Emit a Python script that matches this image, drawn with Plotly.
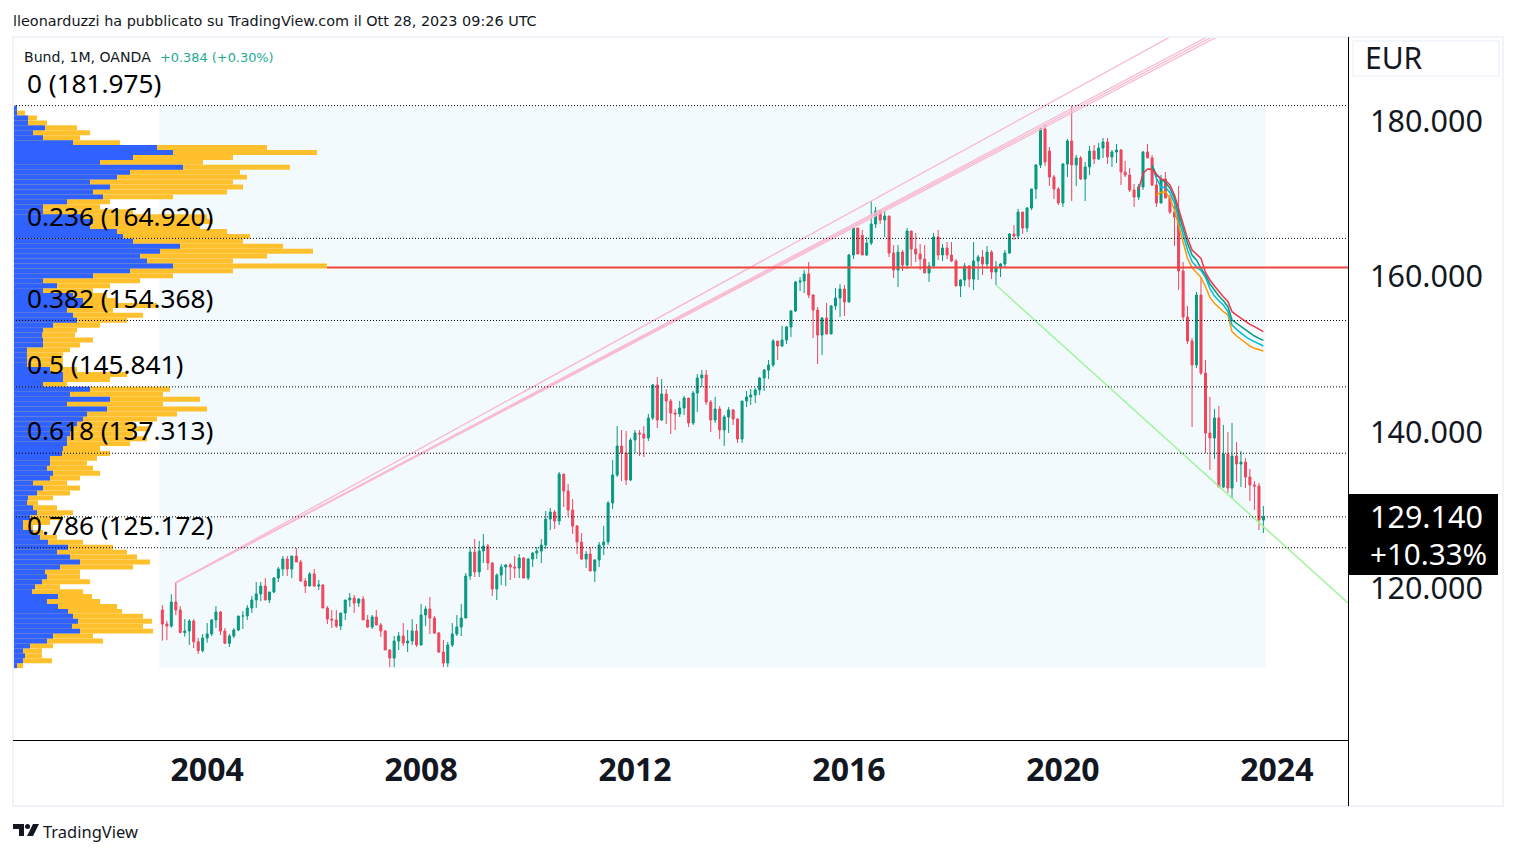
import pandas as pd
import plotly.graph_objects as go

W, H = 1516, 854
L, R, T, B = 13, 1348, 37, 740

FIRST_MONTH = "2003-03-01"
OPEN_FIRST = 117.17
OPEN_GAPS = {157: 165.3, 199: 176.14}

closes = [
115.37,115.11,118.2,117.17,114.26,114.47,115.76,113.1,111.95,113.57,114.09,115.89,116.91,114.47,112.89,113.83,114.6,116.4,116.4,117.43,
118.46,119.23,120.25,118.46,119.48,121.28,122.44,123.72,122.44,124.11,123.34,120.9,120.25,121.8,120.25,120.38,117.43,116.0,115.89,115.11,
116.79,118.46,118.71,118.07,118.58,115.89,114.99,116.27,115.24,114.47,112.03,111.0,113.19,113.83,112.93,113.19,114.47,112.67,116.53,117.3,
116.14,114.22,111.77,110.36,112.67,114.09,114.99,116.14,121.54,124.62,122.05,124.75,125.39,123.21,119.87,121.66,122.69,122.95,122.69,122.56,
123.85,121.28,123.72,124.49,124.75,125.52,128.86,129.76,128.6,134.64,132.46,130.02,127.96,125.91,123.72,124.36,122.18,123.59,125.52,125.91,
130.92,134.52,138.24,137.34,133.87,139.01,139.91,139.78,139.27,141.84,146.08,141.58,144.92,144.02,142.48,142.35,143.12,144.41,141.2,145.05,
146.98,147.36,143.89,141.58,143.0,140.3,141.97,142.87,141.71,139.14,144.02,144.54,144.79,145.44,146.98,148.0,148.65,151.73,151.09,151.86,
153.53,155.58,159.31,159.44,160.34,157.64,155.71,152.5,154.68,152.63,156.23,157.25,158.41,156.74,162.78,166.25,162.91,162.78,164.32,166.76,
168.43,167.28,167.79,163.04,160.85,163.16,161.49,165.86,163.55,162.91,162.26,160.47,161.37,165.09,162.78,163.68,162.78,162.01,158.8,159.57,
161.37,159.69,162.01,162.52,161.62,163.16,160.59,161.24,161.62,163.04,165.48,165.22,168.3,166.25,168.82,171.26,174.35,178.97,174.73,172.8,
171.26,169.46,174.47,177.43,174.35,175.25,172.55,174.09,176.14,175.12,176.53,177.3,175.37,176.02,176.27,173.45,173.06,171.13,170.23,171.52,
176.02,175.25,171.78,169.46,172.55,170.11,168.31,167.66,160.73,154.82,151.73,148.65,157.64,147.62,139.91,139.27,141.84,132.97,137.21,132.84,
136.96,135.93,136.18,134.26,133.23,133.1,128.73,129.14]

highs = [
117.81,115.8,119.2,120.68,117.68,116.0,116.0,116.0,113.57,114.09,115.5,116.0,117.68,117.04,114.86,114.09,114.86,116.4,117.04,117.81,
118.97,120.77,120.77,121.28,119.48,121.41,122.7,124.11,124.11,124.11,125.14,123.6,121.28,122.05,122.44,121.03,120.51,117.68,117.17,117.17,
116.79,118.46,119.35,119.1,118.71,118.97,116.53,116.53,117.17,115.5,114.6,112.16,113.83,114.34,115.5,114.6,116.0,115.37,117.94,117.68,
118.84,116.4,114.34,113.32,113.06,115.5,116.53,117.94,121.93,125.27,126.29,126.04,126.94,125.65,123.33,121.88,123.08,123.08,123.21,124.11,
124.36,123.98,123.85,124.62,125.26,126.29,129.89,130.27,130.02,134.9,134.64,133.36,131.43,128.09,127.06,124.75,125.26,123.72,125.91,127.96,
131.17,136.44,140.81,140.3,140.17,139.27,140.3,140.3,140.81,142.35,146.2,147.1,146.85,145.56,144.28,143.0,144.02,144.66,144.41,145.31,
147.49,148.0,148.0,144.15,144.54,143.38,142.22,143.25,143.0,141.84,144.02,145.31,145.56,145.69,147.11,148.13,149.29,151.98,151.73,153.66,
153.66,155.71,159.44,159.95,160.85,161.88,157.77,156.1,154.81,156.61,156.35,158.54,159.05,158.92,162.91,166.38,166.25,165.99,165.09,169.72,
168.95,168.43,168.43,167.79,164.06,164.06,163.42,166.25,165.86,165.61,164.19,164.06,161.88,165.61,165.99,164.19,164.45,164.45,162.26,159.69,
161.75,161.49,164.45,162.78,163.42,163.93,163.42,162.01,161.75,163.42,165.61,166.63,168.69,168.3,168.95,171.3,174.47,179.23,179.61,176.66,
173.06,171.52,174.6,177.69,181.975,175.63,175.5,174.73,176.79,176.92,177.17,177.82,177.82,176.27,177.04,176.4,174.86,173.96,171.9,171.9,
176.14,177.04,175.63,173.32,173.06,173.45,170.49,169.08,171.65,161.88,156.23,152.12,158.03,159.83,149.29,144.54,143.0,143.38,140.94,140.04,
141.2,138.75,137.6,136.7,135.3,133.74,133.49,130.53]

lows = [
113.23,113.3,114.9,116.5,114.26,113.75,112.67,112.29,111.52,111.73,112.97,113.83,114.86,113.96,112.8,112.42,113.57,114.47,114.73,115.89,
116.79,117.43,118.33,118.46,118.07,119.35,120.77,121.54,121.54,121.28,123.34,120.77,119.35,120.25,120.13,119.74,117.43,115.37,114.86,114.86,
114.6,115.89,117.56,116.79,117.56,115.89,114.86,114.73,115.24,113.7,112.03,109.85,109.85,112.03,112.54,111.77,112.67,112.42,112.67,115.11,
114.09,114.09,111.65,109.85,109.85,112.42,113.83,113.83,116.14,121.05,121.41,121.41,123.21,122.31,118.97,118.45,120.38,120.25,121.02,121.28,
121.28,121.28,121.02,122.69,123.72,123.21,125.0,127.45,127.58,128.09,130.4,129.25,126.93,124.36,123.59,122.56,122.18,120.77,122.69,124.23,
125.52,130.15,134.26,133.74,133.23,133.74,137.34,136.96,136.83,138.88,141.58,140.55,141.45,141.07,139.78,140.3,141.97,142.22,140.68,140.94,
142.61,145.82,143.51,140.04,141.2,139.14,138.24,139.91,140.94,138.63,138.63,143.25,143.51,143.77,144.79,145.31,146.85,148.39,149.29,150.96,
151.34,152.24,155.45,158.15,157.9,157.25,152.11,148.77,149.93,152.63,152.63,155.71,154.81,154.94,156.74,162.26,162.91,162.78,162.65,164.06,
166.25,166.76,165.09,162.52,159.82,158.67,160.72,160.98,161.36,161.88,160.85,160.47,159.31,161.11,162.14,162.01,162.26,161.88,158.8,157.38,
158.8,158.67,158.28,159.57,160.21,160.98,159.69,158.92,159.95,161.11,162.91,164.71,164.83,165.48,165.73,168.56,169.98,173.96,174.22,171.65,
169.98,169.21,168.95,172.8,169.72,171.65,172.42,169.72,173.06,174.47,175.0,175.25,174.47,174.09,174.6,171.78,172.8,170.88,168.95,169.85,
171.13,175.25,171.65,168.95,169.46,170.11,168.05,163.94,158.3,154.43,151.35,140.68,148.26,147.36,137.34,135.16,136.57,132.97,132.84,132.2,
131.43,133.62,132.97,132.84,131.17,130.02,127.45,127.06]

ema_red = [171.13,173.27,173.83,173.79,173.15,172.55,172.38,171.78,170.49,168.78,166.85,164.92,163.42,162.87,162.35,
           160.51,159.57,158.8,158.07,157.43,156.79,155.5,155.07,154.64,154.26,153.87,153.57,153.23,152.93]
ema_teal = [174.35,173.06,172.55,172.12,171.35,170.06,168.14,166.21,164.28,162.78,162.14,
            161.07,160.21,159.06,158.2,157.51,156.91,156.14,154.43,154.0,153.57,153.15,152.72,152.37,152.07,151.82]
ema_cyan = [174.13,172.63,171.48,171.48,170.79,169.42,167.41,165.35,163.42,161.92,161.28,
            160.77,159.91,158.5,157.51,156.91,156.36,155.5,153.79,153.23,152.72,152.29,151.95,151.65,151.35,151.09]
ema_orange = [170.49,170.83,170.92,170.06,168.56,166.64,164.5,162.35,161.15,
              160.5,159.91,158.71,157.34,156.57,156.02,155.5,155.07,152.93,152.37,151.95,151.52,151.09,150.79,150.66,150.45]

# volume profile rows, top to bottom, arbitrary volume units
vp_down = [4,4,15,15,32,20,30,60,144,160,120,87,170,117,104,77,97,80,90,54,30,30,70,80,77,104,110,
 120,167,147,127,134,160,117,80,30,44,30,60,70,70,54,60,64,40,30,29,30,30,14,14,14,14,37,50,50,30,77,57,97,54,94,74,70,64,60,57,54,54,50,49,37,
 37,34,40,37,20,30,24,15,14,20,24,17,10,10,20,27,35,55,44,57,67,47,32,34,29,22,19,45,34,45,55,60,65,59,67,40,34,17,10,12,10,4]
vp_total = [4,12,24,34,64,77,67,107,254,304,220,190,277,227,234,220,230,214,160,97,87,120,194,200,187,214,237,
 230,270,300,254,220,314,220,160,127,97,80,94,104,144,100,130,114,87,64,62,80,67,57,50,50,50,64,114,97,54,157,150,187,150,194,164,144,120,137,120,134,117,87,97,84,
 74,80,87,67,54,67,57,40,25,44,60,50,37,20,30,44,70,100,114,124,137,120,67,67,77,47,70,79,87,104,109,130,139,130,140,80,90,40,29,29,39,10]

fib_ratios = ["0", "0.236", "0.382", "0.5", "0.618", "0.786"]
fib_prices = [181.975, 164.920, 154.368, 145.841, 137.313, 125.172]
fib_bottom = 109.707
last_price = 129.14
support_level = 161.18
y_ticks = [180, 160, 140, 120]
x_years = [2004, 2008, 2012, 2016, 2020, 2024]

trend_start = ("2003-06-01", 120.68)
trend_ends = [("2022-01-02", 190.79), ("2022-09-11", 190.79), ("2022-10-15", 190.79), ("2022-11-18", 190.79)]
down_line = (("2018-10-01", 158.92), ("2025-05-01", 118.07))

X_RANGE = ["2000-05-15", "2025-05-01"]
Y_RANGE = [100.47, 190.79]

RED, GREEN = "#F0465C", "#089981"
months = pd.date_range(FIRST_MONTH, periods=len(closes), freq="MS")
opens = [OPEN_FIRST] + closes[:-1]
for k, v in OPEN_GAPS.items():
    opens[k] = v

def px(x):
    return (x - L) / (R - L)
def py(y):
    return (B - y) / (B - T)

fig = go.Figure()

# volume profile
row_h = (fib_prices[0] - fib_bottom) / len(vp_total)
vp_levels = [fib_prices[0] - (k + 0.5) * row_h for k in range(len(vp_total))]
fig.add_trace(go.Bar(y=vp_levels, x=vp_total, orientation="h", xaxis="x2", width=row_h,
                     marker=dict(color="#FFC02E", line_width=0), hoverinfo="skip"))
fig.add_trace(go.Bar(y=vp_levels, x=vp_down, orientation="h", xaxis="x2", width=row_h,
                     marker=dict(color="#2F62FF", line_width=0), hoverinfo="skip"))

for end in trend_ends:
    fig.add_trace(go.Scatter(x=[trend_start[0], end[0]], y=[trend_start[1], end[1]], mode="lines",
                             line=dict(color="#F8BBD0", width=1.4), hoverinfo="skip"))
fig.add_trace(go.Scatter(x=[down_line[0][0], down_line[1][0]], y=[down_line[0][1], down_line[1][1]],
                         mode="lines", line=dict(color="#A0F59A", width=1.5), hoverinfo="skip"))

fig.add_trace(go.Candlestick(x=months, open=opens, high=highs, low=lows, close=closes,
                             increasing=dict(line=dict(color=GREEN, width=1), fillcolor=GREEN),
                             decreasing=dict(line=dict(color=RED, width=1), fillcolor=RED),
                             hoverinfo="skip"))

for vals, col in [(ema_orange, "#FF9800"), (ema_cyan, "#00BCD4"), (ema_teal, "#089981"), (ema_red, "#F23645")]:
    fig.add_trace(go.Scatter(x=months[-len(vals):], y=vals, mode="lines",
                             line=dict(color=col, width=1.5), hoverinfo="skip"))

shapes = []
# fib background
shapes.append(dict(type="rect", xref="x", yref="y", x0="2003-02-08", x1="2023-10-16",
                   y0=fib_bottom, y1=fib_prices[0], fillcolor="#F2FAFD", line_width=0, layer="below"))
# dotted levels
for p in fib_prices + [last_price]:
    shapes.append(dict(type="line", xref="paper", yref="y", x0=0, x1=1, y0=p, y1=p,
                       line=dict(color="#000000", width=1, dash="1px,2px"), layer="above"))
# support line
shapes.append(dict(type="line", xref="paper", yref="y", x0=px(327), x1=1, y0=support_level, y1=support_level,
                   line=dict(color="#F0453F", width=2), layer="above"))
# frame
shapes.append(dict(type="rect", xref="paper", yref="paper", x0=px(13), x1=px(1503), y0=py(806), y1=py(37),
                   line=dict(color="#F0F3FA", width=2), layer="above"))
shapes.append(dict(type="line", xref="paper", yref="paper", x0=px(1348.5), x1=px(1348.5), y0=py(806), y1=py(37),
                   line=dict(color="#000000", width=1), layer="above"))
shapes.append(dict(type="line", xref="paper", yref="paper", x0=px(13), x1=px(1348), y0=py(740.5), y1=py(740.5),
                   line=dict(color="#000000", width=1), layer="above"))
# EUR button
shapes.append(dict(type="rect", xref="paper", yref="paper", x0=px(1353), x1=px(1499), y0=py(76), y1=py(41),
                   line=dict(color="#F0F3FA", width=1.5), layer="above"))
# last price box
shapes.append(dict(type="rect", xref="paper", yref="paper", x0=px(1348), x1=px(1498), y0=py(575), y1=py(494),
                   fillcolor="#000000", line_width=0, layer="above"))
# logo
def logo(points):
    return "M" + " L".join(f"{px(a)},{py(b)}" for a, b in points) + " Z"
shapes.append(dict(type="path", xref="paper", yref="paper", fillcolor="#131722", line_width=0, layer="above",
                   path=logo([(13, 824), (24, 824), (24, 836), (19, 836), (19, 829), (13, 829)])))
shapes.append(dict(type="path", xref="paper", yref="paper", fillcolor="#131722", line_width=0, layer="above",
                   path=logo([(33, 824), (39, 824), (33, 836), (27, 836)])))
shapes.append(dict(type="circle", xref="paper", yref="paper", x0=px(25), x1=px(30), y0=py(829), y1=py(824),
                   fillcolor="#131722", line_width=0, layer="above"))

ann = []
def text(x, y, s, size, color="#131722", font="Noto Sans", anchor="left", weight=400):
    ann.append(dict(xref="paper", yref="paper", x=px(x), y=py(y), text=s, showarrow=False,
                    xanchor=anchor, yanchor="middle", borderpad=0,
                    font=dict(size=size, color=color, family=font, weight=weight)))

text(12, 21, "lleonarduzzi ha pubblicato su TradingView.com il Ott 28, 2023 09:26 UTC", 14.4, "#131722", font="DejaVu Sans")
text(23, 57, "Bund, 1M, OANDA", 14.1, "#131722", font="DejaVu Sans")
text(159, 57, "+0.384 (+0.30%)", 12.9, "#22AB94", font="DejaVu Sans")
fib_text_y = [83, 216, 298, 364, 430, 525]
for r, p, y in zip(fib_ratios, fib_prices, fib_text_y):
    text(26, y, f"{r} ({p:.3f})", 26.2, "#000000")
text(1364, 58, "EUR", 30, "#131722")
text(1369, 516, f"{last_price:.3f}", 30.5, "#FFFFFF")
text(1369, 553, "+10.33%", 29.6, "#FFFFFF")
text(42, 831, "TradingView", 16.5, "#131722")

fig.update_layout(
    width=W, height=H, margin=dict(l=L, r=W - R, t=T, b=H - B, pad=0),
    paper_bgcolor="#FFFFFF", plot_bgcolor="#FFFFFF", showlegend=False, barmode="overlay",
    font=dict(family="Noto Sans", color="#131722"),
    xaxis=dict(type="date", range=X_RANGE, showgrid=False, zeroline=False, showline=False,
               rangeslider=dict(visible=False),
               tickvals=[f"{y}-01-01" for y in x_years], ticktext=[str(y) for y in x_years],
               ticks="", tickfont=dict(size=32, color="#131722", family="Noto Sans", weight=700),
               ticklabelstandoff=8, fixedrange=True),
    xaxis2=dict(overlaying="x", range=[0, R - L], visible=False, side="bottom", anchor="y", fixedrange=True),
    yaxis=dict(range=Y_RANGE, side="right", showgrid=False, zeroline=False, showline=False,
               tickvals=y_ticks, tickformat=".3f", ticks="",
               tickfont=dict(size=30.5, color="#131722", family="Noto Sans"),
               ticklabelstandoff=21, fixedrange=True),
    shapes=shapes, annotations=ann,
)

fig.write_html("out.html", config=dict(displayModeBar=False),
               post_script="document.body.style.margin='0';")
